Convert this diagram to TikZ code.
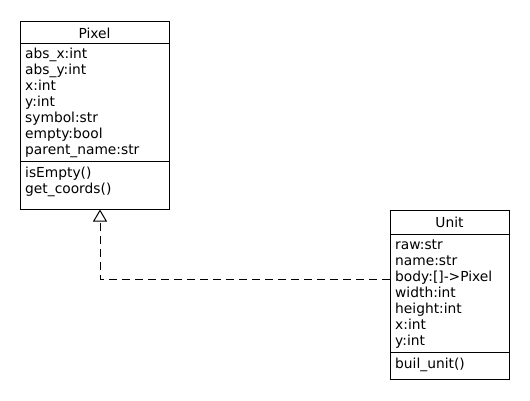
\documentclass[tikz,border=0pt]{standalone}
\usepackage{fontspec}
\setmainfont{DejaVu Sans}
\usetikzlibrary{arrows.meta}

\tikzset{
  classbox/.style={draw, line width=1pt, inner sep=0pt},
  member/.style={anchor=base west, inner sep=0pt, font=\fontsize{13.8}{16}\selectfont},
  classname/.style={anchor=base, inner sep=0pt, font=\fontsize{13.8}{16}\selectfont},
  realize/.style={dash pattern=on 8pt off 5pt, line width=1pt, -{Triangle[open, length=12pt, width=14pt]}}
}

\begin{document}
\begin{tikzpicture}[x=1pt,y=1pt]
    \useasboundingbox (0,0) rectangle (530,-400);
    % Pixel
    \node [classbox, minimum width=149pt, minimum height=188pt] (pixel) at (94.5,-115) {};
    \draw [line width=1pt] (20,-43) -- (169,-43);
    \draw [line width=1pt] (20,-161) -- (169,-161);
    \node [classname] (pixelname) at (94.5,-38) {Pixel};
		\foreach \t [count=\i] in {{abs\_x:int},{abs\_y:int},{x:int},{y:int},{symbol:str},{empty:bool},{parent\_name:str}}
			\node [member] (pa\i) at (25,{-42-16*\i}) {\t};
		\foreach \t [count=\i] in {{isEmpty()},{get\_coords()}}
			\node [member] (pm\i) at (25,{-161-16*\i}) {\t};
    % Unit
    \node [classbox, minimum width=119pt, minimum height=169pt] (unit) at (449.5,-294.5) {};
    \draw [line width=1pt] (390,-234) -- (509,-234);
    \draw [line width=1pt] (390,-352) -- (509,-352);
    \node [classname] (unitname) at (449.5,-227) {Unit};
		\foreach \t [count=\i] in {{raw:str},{name:str},{body:[]->Pixel},{width:int},{height:int},{x:int},{y:int}}
			\node [member] (ua\i) at (395,{-233-16*\i}) {\t};
		\foreach \t [count=\i] in {{buil\_unit()}}
			\node [member] (um\i) at (395,{-352-16*\i}) {\t};
    % unit realizes pixel
    \draw [realize] ([yshift=-70pt]unit.north west) -| ([xshift=5.5pt]pixel.south);
  \end{tikzpicture}
\end{document}
